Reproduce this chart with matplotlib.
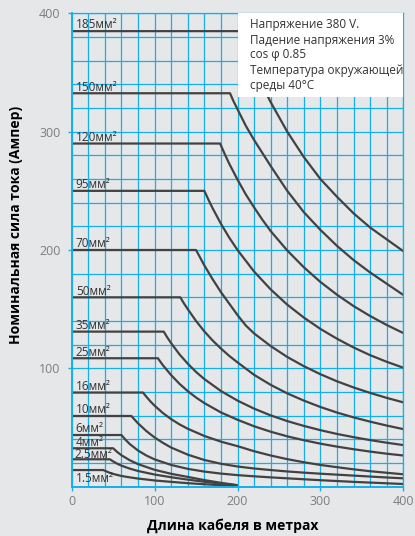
import matplotlib
matplotlib.use('Agg')
import matplotlib.pyplot as plt
from matplotlib.ticker import MultipleLocator
from matplotlib.patches import Rectangle

plt.rcParams['font.family'] = ['Open Sans', 'DejaVu Sans']

# ---------------- data ----------------
cable_labels = ['185мм²', '150мм²', '120мм²', '95мм²', '70мм²', '50мм²', '35мм²',
                '25мм²', '16мм²', '10мм²', '6мм²', '4мм²', '2.5мм²', '1.5мм²']

x_185 = [0, 203, 210, 220, 230, 240, 260, 280, 300, 320, 340, 360, 380, 400]
y_185 = [385, 385, 371.4, 354.5, 339.1, 325, 300, 278.6, 260, 245, 231, 219, 209, 199]

x_150 = [0, 191, 195, 200, 210, 220, 230, 240, 260, 280, 300, 320, 340, 360, 380, 400]
y_150 = [332.5, 332.5, 326, 319, 305, 293, 282, 271, 250, 232, 217, 203.5, 191.5, 181, 171.5, 162]

x_120 = [0, 179, 185, 190, 200, 210, 220, 230, 240, 260, 280, 300, 320, 340, 360, 380, 400]
y_120 = [290, 290, 280.5, 273, 259.5, 247, 236, 225.6, 216, 199.6, 185.4, 173, 162.2, 152.6,
         144.2, 136.6, 129.8]

x_95 = [0, 160, 165, 170, 180, 190, 200, 220, 240, 260, 280, 300, 320, 340, 360, 380, 400]
y_95 = [250, 250, 242.4, 235.3, 222.2, 210.5, 200, 181.8, 166.7, 153.8, 142.9, 133.3, 125,
        117.6, 111.1, 105.5, 100.5]

x_70 = [0, 150, 155, 160, 170, 180, 190, 200, 210, 220, 240, 260, 280, 300, 320, 340, 360, 380, 400]
y_70 = [200, 200, 193.5, 187, 175.3, 164.4, 154.7, 145, 136.2, 129.5, 118.8, 109.6, 101.8, 95,
        89, 83.8, 79.2, 75, 71.2]

x_50 = [0, 131, 135, 140, 150, 160, 170, 180, 190, 200, 220, 240, 260, 280, 300, 320, 340, 360, 380, 400]
y_50 = [160, 160, 155.3, 150, 140, 131.2, 123.5, 116.7, 110.5, 105, 94.5, 86, 78.8, 72.7, 67.3,
        62.6, 58.5, 54.9, 51.6, 48.6]

x_35 = [0, 111, 115, 120, 130, 140, 150, 160, 180, 200, 220, 240, 260, 280, 300, 320, 340, 360, 380, 400]
y_35 = [131, 131, 126.4, 121.2, 111.8, 103.9, 96.9, 90.9, 80.8, 72.7, 65.9, 60.2, 55.4, 51.3,
        47.7, 44.5, 41.8, 39.3, 37.1, 35.1]

x_25 = [0, 104, 110, 120, 130, 140, 150, 160, 180, 200, 220, 240, 260, 280, 300, 320, 340, 360, 380, 400]
y_25 = [108.5, 108.5, 102.6, 94.2, 86.9, 80.7, 75.3, 70.6, 62.7, 56.5, 51, 46.4, 42.5, 39.2,
        36.3, 33.8, 31.6, 29.6, 27.8, 26.3]

x_16 = [0, 86, 90, 95, 100, 110, 120, 130, 140, 160, 180, 200, 220, 240, 260, 280, 300, 320, 340, 360, 380, 400]
y_16 = [79.5, 79.5, 76, 72, 68.4, 62.2, 57, 52.6, 48.9, 42.8, 38, 34.2, 29.9, 26.3, 23.2, 20.6,
        18.3, 16.4, 14.6, 13, 11.7, 10.4]

x_10 = [0, 72, 76, 80, 90, 100, 110, 120, 140, 160, 180, 200, 220, 240, 260, 280, 300, 320, 340, 360, 380, 400]
y_10 = [59.7, 59.7, 56.5, 53.5, 47, 41.5, 37, 33, 27, 22.5, 19.3, 17, 15.3, 14, 12.8, 11.8, 10.9,
        10.1, 9.3, 8.5, 7.7, 7]

x_6 = [0, 60, 65, 70, 80, 90, 100, 120, 140, 160, 180, 200, 220, 240, 260, 280, 300, 320, 340, 360, 380, 400]
y_6 = [43.6, 43.6, 39.5, 36, 30.5, 26.3, 23, 18.3, 15, 12.7, 11, 9.7, 8.7, 7.8, 7, 6.2, 5.4, 4.7,
       4, 3.4, 2.8, 2.2]

x_4 = [0, 50, 55, 60, 70, 80, 100, 120, 140, 160, 180, 200]
y_4 = [32.4, 32.4, 29.2, 26.5, 22.3, 19, 14.2, 10.8, 8.2, 5.5, 3.2, 1.2]

x_2_5 = [0, 46, 50, 55, 60, 70, 80, 100, 120, 140, 160, 180, 200]
y_2_5 = [23.1, 23.1, 21.3, 19.3, 17.7, 15.2, 13.2, 10.2, 7.9, 5.9, 4.1, 2.5, 1.0]

x_1_5 = [0, 38, 45, 50, 60, 70, 80, 100, 120, 140, 160, 180, 200]
y_1_5 = [14, 14, 11.9, 10.7, 9, 7.8, 6.8, 5.2, 4, 2.9, 2, 1.2, 0.6]

curves_x = [x_185, x_150, x_120, x_95, x_70, x_50, x_35, x_25, x_16, x_10, x_6, x_4, x_2_5, x_1_5]
curves_y = [y_185, y_150, y_120, y_95, y_70, y_50, y_35, y_25, y_16, y_10, y_6, y_4, y_2_5, y_1_5]

x_ticks = [0, 100, 200, 300, 400]
y_ticks = [100, 200, 300, 400]

note_lines = ['Напряжение 380 V.', 'Падение напряжения 3%', 'cos φ 0.85',
              'Температура окружающей', 'среды 40°C']

x_title = 'Длина кабеля в метрах'
y_title = 'Номинальная сила тока (Ампер)'

# ---------------- styling ----------------
BG = '#e6e7e8'
GRID = '#14b0ec'
CURVE = '#424242'
TXT = '#333333'

fig = plt.figure(figsize=(4.15, 5.36), dpi=100, facecolor=BG)
ax = fig.add_axes([71.7 / 415, 1 - 486.6 / 536, (403.3 - 71.7) / 415, (486.6 - 13.4) / 536])
ax.set_facecolor(BG)
ax.set_xlim(0, 400)
ax.set_ylim(0, 400)
ax.set_xticks(x_ticks)
ax.set_yticks(y_ticks)
ax.xaxis.set_minor_locator(MultipleLocator(20))
ax.yaxis.set_minor_locator(MultipleLocator(20))
ax.grid(which='both', color=GRID, lw=0.9, zorder=0)
ax.set_axisbelow(True)
for side in ['left', 'bottom']:
    ax.spines[side].set_color(GRID)
    ax.spines[side].set_linewidth(1.4)
for side in ['top', 'right']:
    ax.spines[side].set_color(GRID)
    ax.spines[side].set_linewidth(0.9)
ax.tick_params(which='major', length=3, width=1, color=GRID, labelcolor='#7d7d7d',
               labelsize=9)
ax.tick_params(axis='x', which='major', pad=3)
ax.tick_params(axis='y', which='major', pad=5)
ax.tick_params(which='minor', length=0)

for xs, ys in zip(curves_x, curves_y):
    ax.plot(xs, ys, color=CURVE, lw=1.6, zorder=2, solid_capstyle='butt',
            solid_joinstyle='round')

# cable labels
for lbl, ys in zip(cable_labels, curves_y):
    plateau = ys[0]
    if lbl == '1.5мм²':
        ax.text(5, plateau - 10.2, lbl, fontsize=8.5, color=TXT, va='baseline', ha='left', zorder=3)
    elif lbl == '2.5мм²':
        ax.text(2.8, plateau + 0.8, lbl, fontsize=8.5, color=TXT, va='baseline', ha='left', zorder=3)
    else:
        ax.text(5, plateau + 2.3, lbl, fontsize=8.5, color=TXT, va='baseline', ha='left', zorder=3)

# info box
ax.add_patch(Rectangle((200, 329.6), 200, 70.4, facecolor='white', edgecolor='none', zorder=4))
note_y = [390.2, 377.3, 364.9, 352.0, 338.8]
for t, yy in zip(note_lines, note_y):
    ax.text(215.5, yy, t, fontsize=8.5, color=TXT, va='center', ha='left', zorder=5)

fig.text(232.5 / 415, 1 - 526 / 536, x_title, fontsize=10, fontweight='bold', color='black',
         ha='center', va='center')
fig.text(16 / 415, 1 - 225 / 536, y_title, fontsize=10, fontweight='bold', color='black',
         ha='center', va='center', rotation=90)

fig.savefig('out.png', dpi=100, facecolor=BG)
